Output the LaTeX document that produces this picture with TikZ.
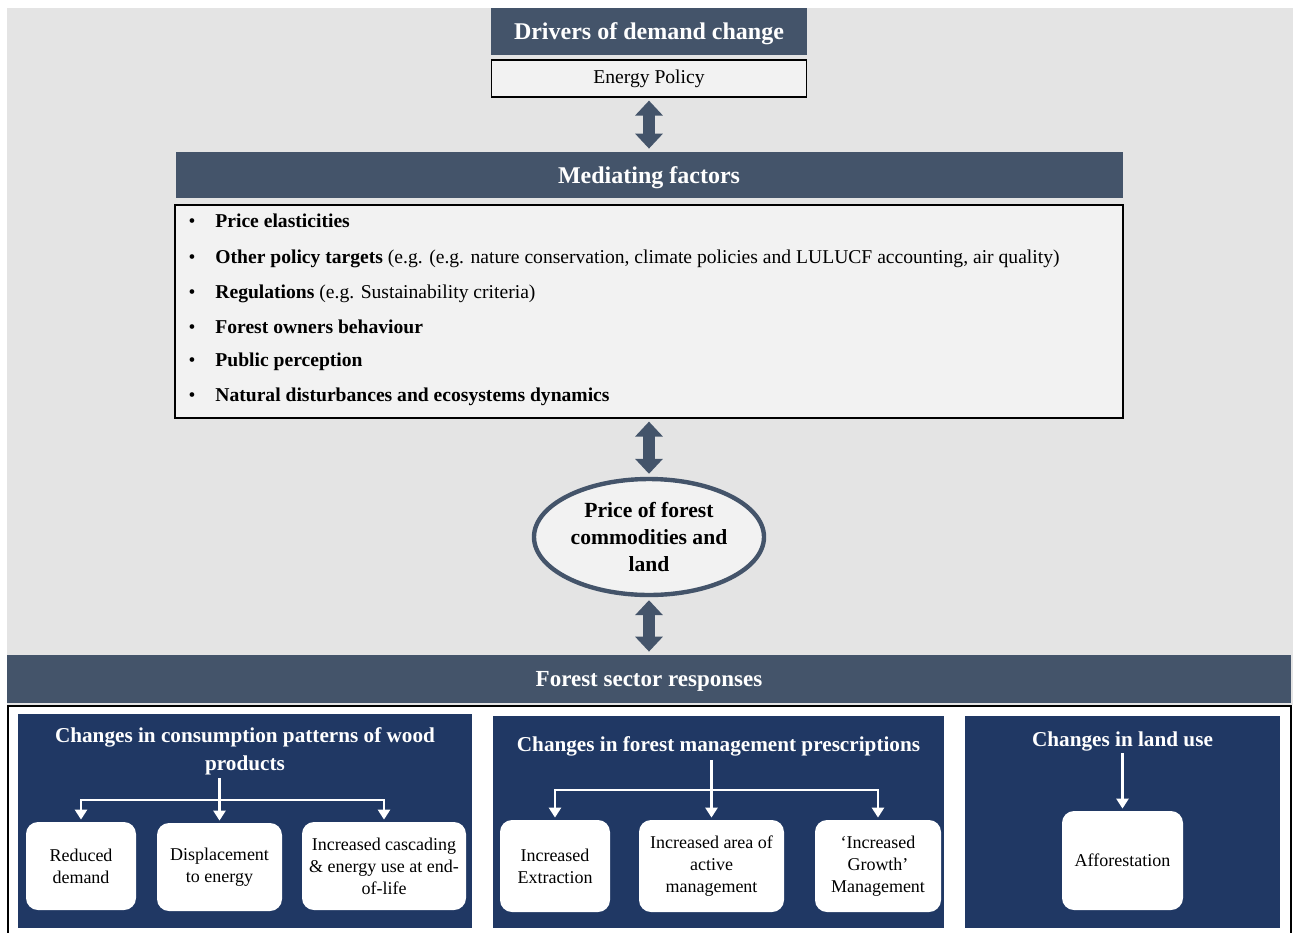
\documentclass[tikz,border=0pt]{standalone}
\usepackage{fontspec}
\setmainfont{Liberation Serif}
\usetikzlibrary{shapes.geometric,arrows.meta,positioning}
\definecolor{slate}{HTML}{44546A}
\definecolor{navy}{HTML}{203864}
\definecolor{paper}{HTML}{E4E4E4}
\definecolor{boxfill}{HTML}{F2F2F2}
\tikzset{
    header/.style={fill=slate, text=white, inner sep=0pt, text depth=0pt,
        font=\fontsize{12}{14}\selectfont\bfseries},
    plainbox/.style={draw=black, fill=boxfill, line width=0.6pt, inner sep=0pt,
        font=\fontsize{9.8}{12}\selectfont},
    twoway/.style={draw=slate, line width=6pt, shorten <=1.5pt, shorten >=1.5pt,
        {Triangle[width=13.5pt,length=7.5pt]}-{Triangle[width=13.5pt,length=7.5pt]}},
    panel/.style={fill=navy, inner sep=0pt},
    paneltitle/.style={text=white, inner sep=0pt, align=center,
        font=\fontsize{10.6}{14}\selectfont\bfseries},
    choice/.style={fill=white, rounded corners=6pt, align=center, inner sep=0pt,
        font=\fontsize{9}{11}\selectfont},
    branch/.style={draw=white, line width=1.3pt},
    branch arrow/.style={branch, shorten >=1pt, -{Triangle[width=6pt,length=5pt]}},
}
\begin{document}
\begin{tikzpicture}[x=0.5pt, y=-0.5pt]
\useasboundingbox (0,0) rectangle (1298,933);
\fill[paper] (7,8) rectangle (1293,705);

% drivers and mediating factors
\node[header, minimum width=158pt, minimum height=23.5pt] (drivers) at (649,31.5) {Drivers of demand change};
\node[plainbox, minimum width=157.5pt, minimum height=18.5pt] (energy) at (649,78.5) {Energy Policy};
\node[header, minimum width=473.5pt, minimum height=23pt] (medhead) at (649,175) {Mediating factors};
\node[plainbox, minimum width=474pt, minimum height=106.5pt] (medlist) at (649,311.5) {};
\foreach \i/\y/\txt in {
    1/227/{\textbf{Price elasticities}},
    2/263/{\textbf{Other policy targets} (e.g. (e.g. nature conservation, climate policies and LULUCF accounting, air quality)},
    3/298/{\textbf{Regulations} (e.g. Sustainability criteria)},
    4/333/{\textbf{Forest owners behaviour}},
    5/366/{\textbf{Public perception}},
    6/401/{\textbf{Natural disturbances and ecosystems dynamics}}} {
    \node[anchor=base, inner sep=0pt, font=\fontsize{9.8}{12}\selectfont] (dot\i) at (192,\y) {\textbullet};
    \node[anchor=base west, inner sep=0pt, font=\fontsize{9.8}{12}\selectfont] (item\i) at (215,\y) {\txt};
}
\node[ellipse, draw=slate, line width=2.2pt, fill=boxfill, minimum width=115pt, minimum height=58pt,
    inner sep=0pt, align=center, font=\fontsize{10.8}{13.5}\selectfont\bfseries] (price) at (649,537)
    {Price of forest\\commodities and\\land};
\node[header, minimum width=642pt, minimum height=24pt, font=\fontsize{11.5}{14}\selectfont\bfseries] (sector) at (649,679) {Forest sector responses};

\draw[twoway] (energy.south) -- (medhead.north);
\draw[twoway] (medlist.south) -- (price.north);
\draw[twoway] (price.south) -- (sector.north);

% responses
\draw[line width=1pt] (8,945) |- (1291,706) -- (1291,945);

\node[panel, minimum width=227pt, minimum height=107pt] (cons) at (245,821) {};
\node[paneltitle] (constitle) at (245,751) {Changes in consumption patterns of wood\\products};
\node[choice, minimum width=55pt, minimum height=44pt] (reduced) at (81,866) {Reduced\\demand};
\node[choice, minimum width=62.5pt, minimum height=44pt] (displace) at (219.5,867) {Displacement\\to energy};
\node[choice, minimum width=82pt, minimum height=44pt] (cascade) at (384,866) {Increased cascading\\\& energy use at end-\\of-life};
\coordinate (cons fork) at (219.5,800);
\draw[branch, shorten <=1.5pt] (constitle.south -| cons fork) -- (cons fork);
\draw[branch arrow] (cons fork) -| (reduced.north);
\draw[branch arrow] (cons fork) -- (displace.north);
\draw[branch arrow] (cons fork) -| (cascade.north);

\node[panel, minimum width=225.5pt, minimum height=106pt] (mgmt) at (718.5,822) {};
\node[paneltitle] (mgmttitle) at (718.5,746) {Changes in forest management prescriptions};
\node[choice, minimum width=55pt, minimum height=46pt] (extraction) at (555,866) {Increased\\Extraction};
\node[choice, minimum width=72.5pt, minimum height=46pt] (activearea) at (711.5,866) {Increased area of\\active\\management};
\node[choice, minimum width=63pt, minimum height=46pt] (growth) at (878,866) {`Increased\\Growth'\\Management};
\coordinate (mgmt fork) at (711.5,790);
\draw[branch, shorten <=2pt] (mgmttitle.south -| mgmt fork) -- (mgmt fork);
\draw[branch arrow] (mgmt fork) -| (extraction.north);
\draw[branch arrow] (mgmt fork) -- (activearea.north);
\draw[branch arrow] (mgmt fork) -| (growth.north);

\node[panel, minimum width=157.5pt, minimum height=106pt] (landuse) at (1122.5,822) {};
\node[paneltitle] (landtitle) at (1122.5,741) {Changes in land use};
\node[choice, minimum width=60.5pt, minimum height=49.5pt] (affor) at (1122.5,860.5) {Afforestation};
\draw[branch arrow, shorten <=1pt] (landtitle.south -| affor.north) -- (affor.north);
\end{tikzpicture}
\end{document}
